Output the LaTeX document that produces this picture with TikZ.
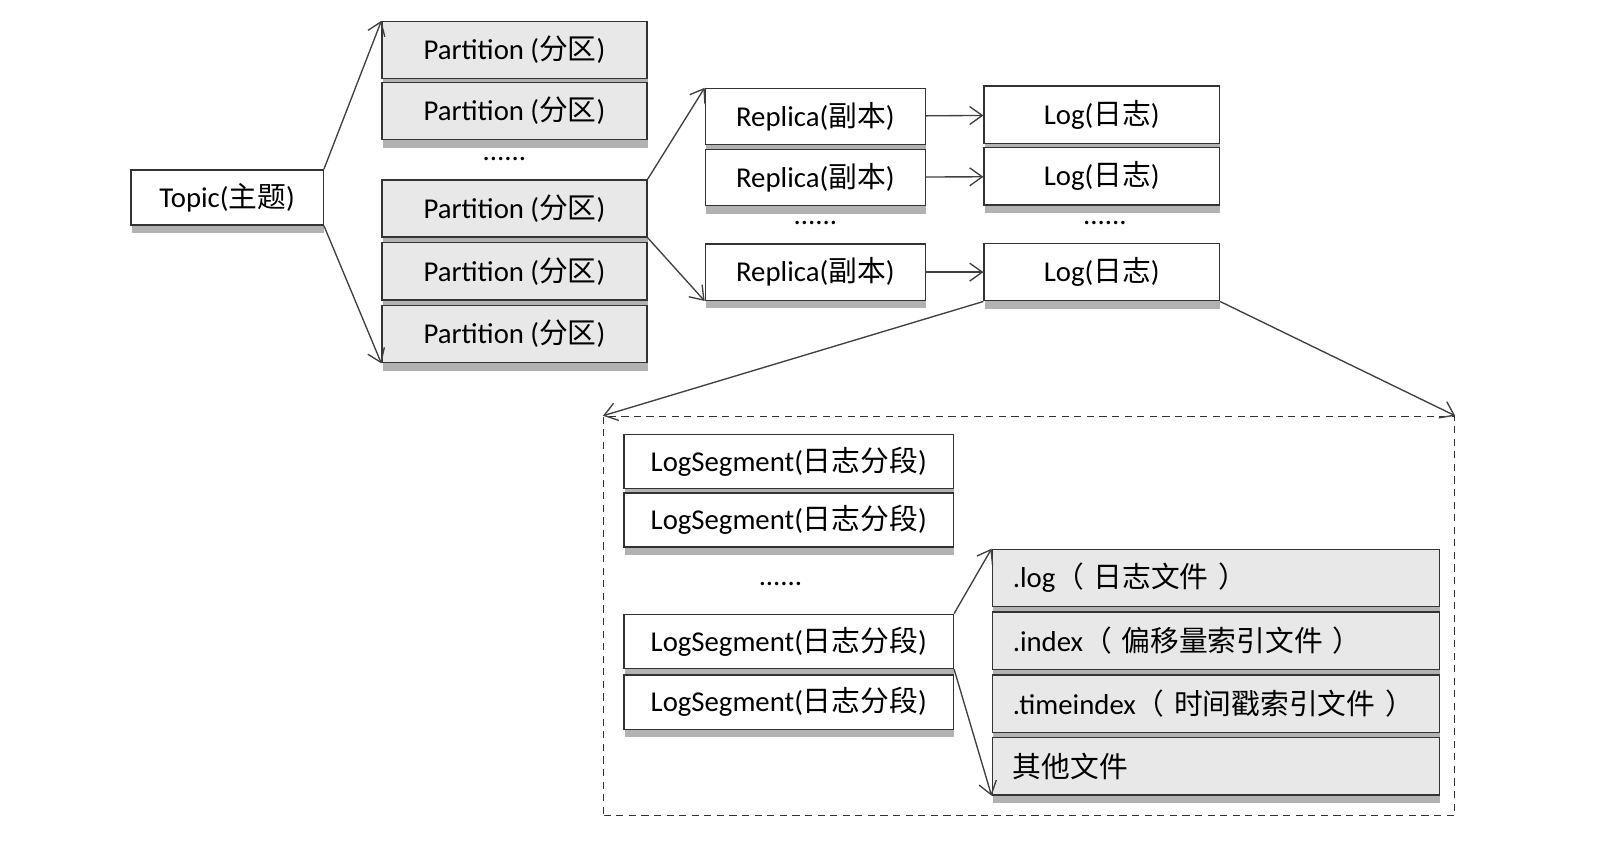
\documentclass[tikz,border=0pt]{standalone}
\usepackage{fontspec}
\setmainfont{Carlito}
\newfontfamily\cjk{Noto Sans CJK SC}
\newcommand{\zh}[1]{{\cjk #1}}
\usepackage{tikz}
\usetikzlibrary{arrows.meta, positioning, shadows}
\colorlet{colorLine}{black!75}
\colorlet{colorFill}{black!9}
\tikzset{
  box/.style={draw=black!80, line width=0.8pt, fill=white, inner sep=0pt, minimum height=1.12cm,
    font=\fontsize{16}{19}\selectfont,
    drop shadow={shadow xshift=0.5pt, shadow yshift=-4.5pt, fill=black!60, opacity=0.5}},
  grey box/.style={box, fill=colorFill},
  file box/.style={grey box, text width=7.94cm, inner xsep=0.4cm, align=left},
  dots/.style={font=\fontsize{16}{19}\selectfont}
}

\begin{document}
\begin{tikzpicture}[x=0.02cm, y=-0.02cm, >={Straight Barb[length=7pt, width=10pt]}, line width=0.75pt]
\useasboundingbox (0,0) rectangle (1568,823);
% topic and partitions
\node[box, minimum width=3.76cm, minimum height=1.08cm] (topic) at (222,193) {Topic(\zh{主题})};
\node[grey box, minimum width=5.18cm] (p1) at (503,49) {Partition (\zh{分区})};
\node[grey box, minimum width=5.18cm, below=0.04cm of p1] (p2) {Partition (\zh{分区})};
\node[grey box, minimum width=5.18cm, below=0.76cm of p2] (p3) {Partition (\zh{分区})};
\node[grey box, minimum width=5.18cm, below=0.08cm of p3] (p4) {Partition (\zh{分区})};
\node[grey box, minimum width=5.18cm, below=0.08cm of p4] (p5) {Partition (\zh{分区})};
\node[dots] (pdots) at (493,155) {......};
% replicas and logs
\node[box, minimum width=4.3cm, minimum height=1.1cm] (r1) at (797,114) {Replica(\zh{副本})};
\node[box, minimum width=4.3cm, minimum height=1.1cm, below=0.06cm of r1] (r2) {Replica(\zh{副本})};
\node[box, minimum width=4.3cm, minimum height=1.1cm] (r3) at (797,266) {Replica(\zh{副本})};
\node[dots] (rdots) at (797,218) {......};
\node[box, minimum width=4.6cm] (l1) at (1077,112) {Log(\zh{日志})};
\node[box, minimum width=4.6cm, below=0.06cm of l1] (l2) {Log(\zh{日志})};
\node[box, minimum width=4.6cm] (l3) at (1077,266) {Log(\zh{日志})};
\node[dots] (ldots) at (1080,218) {......};
% log segments and files
\node[draw=black!80, line width=0.7pt, dash pattern=on 4pt off 3pt, minimum width=16.64cm, minimum height=7.8cm] (seglist) at (1006,602) {};
\node[box, minimum width=6.44cm, minimum height=1.06cm] (s1) at (771,451) {LogSegment(\zh{日志分段})};
\node[box, minimum width=6.44cm, minimum height=1.06cm, below=0.06cm of s1] (s2) {LogSegment(\zh{日志分段})};
\node[box, minimum width=6.44cm, minimum height=1.06cm] (s3) at (771,627) {LogSegment(\zh{日志分段})};
\node[box, minimum width=6.44cm, minimum height=1.06cm, below=0.1cm of s3] (s4) {LogSegment(\zh{日志分段})};
\node[dots] (sdots) at (763,571) {......};
\node[file box] (f1) at (1188.5,565) {.log\zh{（ 日志文件 ）}};
\node[file box, below=0.08cm of f1] (f2) {.index\zh{（ 偏移量索引文件 ）}};
\node[file box, below=0.08cm of f2] (f3) {.timeindex\zh{（ 时间戳索引文件 ）}};
\node[file box, below=0.08cm of f3] (f4) {\zh{其他文件}};
% connectors
\draw [->, colorLine] (topic.north east) -- (p1.north west);
\draw [->, colorLine] (topic.south east) -- (p5.south west);
\draw [->, colorLine] (p3.north east) -- (r1.north west);
\draw [->, colorLine] (p3.south east) -- (r3.south west);
\draw [->, colorLine] (r1) -- (l1);
\draw [->, colorLine] (r2) -- (l2);
\draw [->, colorLine] (r3) -- (l3);
\draw [->, colorLine] (l3.south west) -- (seglist.north west);
\draw [->, colorLine] (l3.south east) -- (seglist.north east);
\draw [->, colorLine] (s3.north east) -- (f1.north west);
\draw [->, colorLine] (s3.south east) -- (f4.south west);
\end{tikzpicture}
\end{document}
